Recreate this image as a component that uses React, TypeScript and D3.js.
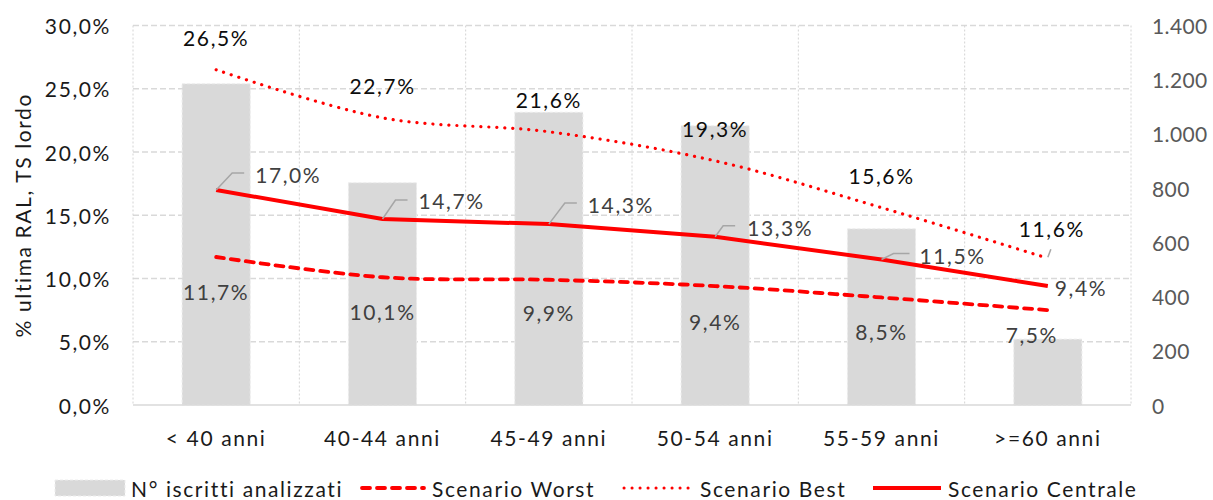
import * as d3 from "d3";

const categories = ["< 40 anni", "40-44 anni", "45-49 anni", "50-54 anni", "55-59 anni", ">=60 anni"];
const iscritti = [1185, 820, 1080, 1030, 650, 243];
const worst = [11.7, 10.1, 9.9, 9.4, 8.5, 7.5];
const best = [26.5, 22.7, 21.6, 19.3, 15.6, 11.6];
const centrale = [17.0, 14.7, 14.3, 13.3, 11.5, 9.4];
const leftTicks = [0, 5, 10, 15, 20, 25, 30];
const rightTicks = [0, 200, 400, 600, 800, 1000, 1200, 1400];

// label placement (pixel offsets from the point), hand tuned like in excel
const bestOff = [[0, -32], [0, -32], [0, -32], [0, -32], [0, -32], [4, -30]];
const centOff = [[39, -15], [36, -19], [39, -20], [32, -9], [38, -4], [7, 1]];
const centLeader = [[16, -17, 28], [13, -19, 25], [16, -21, 28], [8, -11, 20], [12, -6, 28], null];
const worstOff = [[0, 35], [0, 34], [0, 33], [0, 35], [0, 34], [-16, 24]];

const width = 1213;
const height = 500;
const marginLeft = 133;
const marginRight = 82;
const marginTop = 25.5;
const plotBottom = 405;

const font = "'Century Gothic', Lato, 'Noto Sans', sans-serif";
const fs = 21;
const ls = 1.6;

const it = d3.formatLocale({ decimal: ",", thousands: ".", grouping: [3], currency: ["€", ""] });
const fmtPct = (v: number) => it.format(".1f")(v) + "%";
const fmtNum = it.format(",.0f");

export default function App() {
  const x = d3.scaleBand<string>().domain(categories).range([marginLeft, width - marginRight]).paddingInner(0.59).paddingOuter(0.295);
  const xg = d3.scaleBand<string>().domain(categories).range([marginLeft, width - marginRight]);
  const yL = d3.scaleLinear([0, 30], [plotBottom, marginTop]);
  const yR = d3.scaleLinear([0, 1400], [plotBottom, marginTop]);
  const cx = (i: number) => (xg(categories[i]) as number) + xg.bandwidth() / 2;

  const smooth = d3.line<number>()
    .x((_, i) => cx(i))
    .y(d => yL(d))
    .curve(d3.curveCatmullRom.alpha(0.5));
  const straight = d3.line<number>()
    .x((_, i) => cx(i))
    .y(d => yL(d));

  const gridXs = categories.map(c => xg(c) as number).concat([width - marginRight]);

  const legendY = 488;
  const legendText = { fontSize: fs, fill: "#1a1a1a", dominantBaseline: "central" as const };

  return (
    <svg width={width} height={height} style={{ position: "absolute", left: 0, top: 0, fontFamily: font, letterSpacing: ls }}>
      <rect width={width} height={height} fill="white" />
      {/* grid */}
      {leftTicks.slice(1).map(t => (
        <line key={t} x1={marginLeft} x2={width - marginRight} y1={yL(t)} y2={yL(t)}
          stroke="#d9d9d9" strokeWidth={1.5} strokeDasharray="6 3" />
      ))}
      {gridXs.map((gx, i) => (
        <line key={i} x1={gx} x2={gx} y1={marginTop} y2={plotBottom}
          stroke="#d4d4d4" strokeWidth={1} strokeDasharray="2 2" />
      ))}
      {/* bars */}
      {iscritti.map((v, i) => (
        <rect key={i} x={x(categories[i])} y={yR(v)} width={x.bandwidth()} height={plotBottom - yR(v)}
          fill="#d9d9d9" stroke="#ededed" strokeWidth={1} strokeDasharray="3 2" />
      ))}
      <line x1={marginLeft} x2={width - marginRight} y1={plotBottom} y2={plotBottom} stroke="#d9d9d9" strokeWidth={1.5} />

      {/* lines */}
      <path d={smooth(worst) ?? ""} fill="none" stroke="#ff0000" strokeWidth={3.8} strokeDasharray="8 7" strokeLinecap="round" />
      <path d={smooth(best) ?? ""} fill="none" stroke="#ff0000" strokeWidth={3.2} strokeDasharray="0.1 7.9" strokeLinecap="round" />
      <path d={straight(centrale) ?? ""} fill="none" stroke="#ff0000" strokeWidth={4} />

      {/* labels */}
      <g fontSize={fs} textAnchor="middle" dominantBaseline="central">
        {best.map((v, i) => (
          <text key={i} x={cx(i) + bestOff[i][0]} y={yL(v) + bestOff[i][1]} fill="#0d0d0d">{fmtPct(v)}</text>
        ))}
        {worst.map((v, i) => (
          <text key={i} x={cx(i) + worstOff[i][0]} y={yL(v) + worstOff[i][1]} fill="#404040">{fmtPct(v)}</text>
        ))}
      </g>
      <path d={`M${cx(5)},${yL(best[5]) - 1}L${cx(5) + 3},${yL(best[5]) - 9}`} stroke="#a6a6a6" strokeWidth={1.5} fill="none" />
      {centrale.map((v, i) => {
        const px = cx(i), py = yL(v);
        const ld = centLeader[i];
        return (
          <g key={i}>
            {ld && (
              <path d={`M${px},${py}L${px + ld[0]},${py + ld[1]}L${px + ld[2]},${py + ld[1]}`}
                fill="none" stroke="#a6a6a6" strokeWidth={1.5} />
            )}
            <text x={px + centOff[i][0]} y={py + centOff[i][1]} fontSize={fs} fill="#404040"
              dominantBaseline="central">{fmtPct(v)}</text>
          </g>
        );
      })}

      {/* left axis */}
      <g fontSize={fs} fill="#1a1a1a" textAnchor="end" dominantBaseline="central">
        {leftTicks.map(t => (
          <text key={t} x={111} y={yL(t)}>{fmtPct(t)}</text>
        ))}
      </g>
      <text transform={`translate(22,${(plotBottom + marginTop) / 2}) rotate(-90)`} textAnchor="middle"
        dominantBaseline="central" fontSize={fs} fill="#1a1a1a">% ultima RAL, TS lordo</text>
      {/* right axis */}
      <g fontSize={fs} fill="#595959" textAnchor="start" dominantBaseline="central" style={{ letterSpacing: 0.4 }}>
        {rightTicks.map(t => (
          <text key={t} x={1152} y={yR(t)}>{fmtNum(t)}</text>
        ))}
      </g>
      {/* x axis */}
      <g fontSize={fs} fill="#1a1a1a" textAnchor="middle" dominantBaseline="central">
        {categories.map((c, i) => (
          <text key={c} x={cx(i)} y={437}>{c}</text>
        ))}
      </g>

      {/* legend */}
      <rect x={55} y={480} width={70} height={16} fill="#d9d9d9" stroke="#ededed" strokeDasharray="3 2" />
      <text x={131} y={legendY} {...legendText}>N° iscritti analizzati</text>
      <line x1={362} x2={424} y1={legendY} y2={legendY} stroke="#ff0000" strokeWidth={3.8} strokeDasharray="8 7" strokeLinecap="round" />
      <text x={432} y={legendY} {...legendText}>Scenario Worst</text>
      <line x1={624} x2={692} y1={legendY} y2={legendY} stroke="#ff0000" strokeWidth={3} strokeDasharray="0.1 7.9" strokeLinecap="round" />
      <text x={700} y={legendY} {...legendText}>Scenario Best</text>
      <line x1={873} x2={941} y1={legendY} y2={legendY} stroke="#ff0000" strokeWidth={4} />
      <text x={948} y={legendY} {...legendText}>Scenario Centrale</text>
    </svg>
  );
}
